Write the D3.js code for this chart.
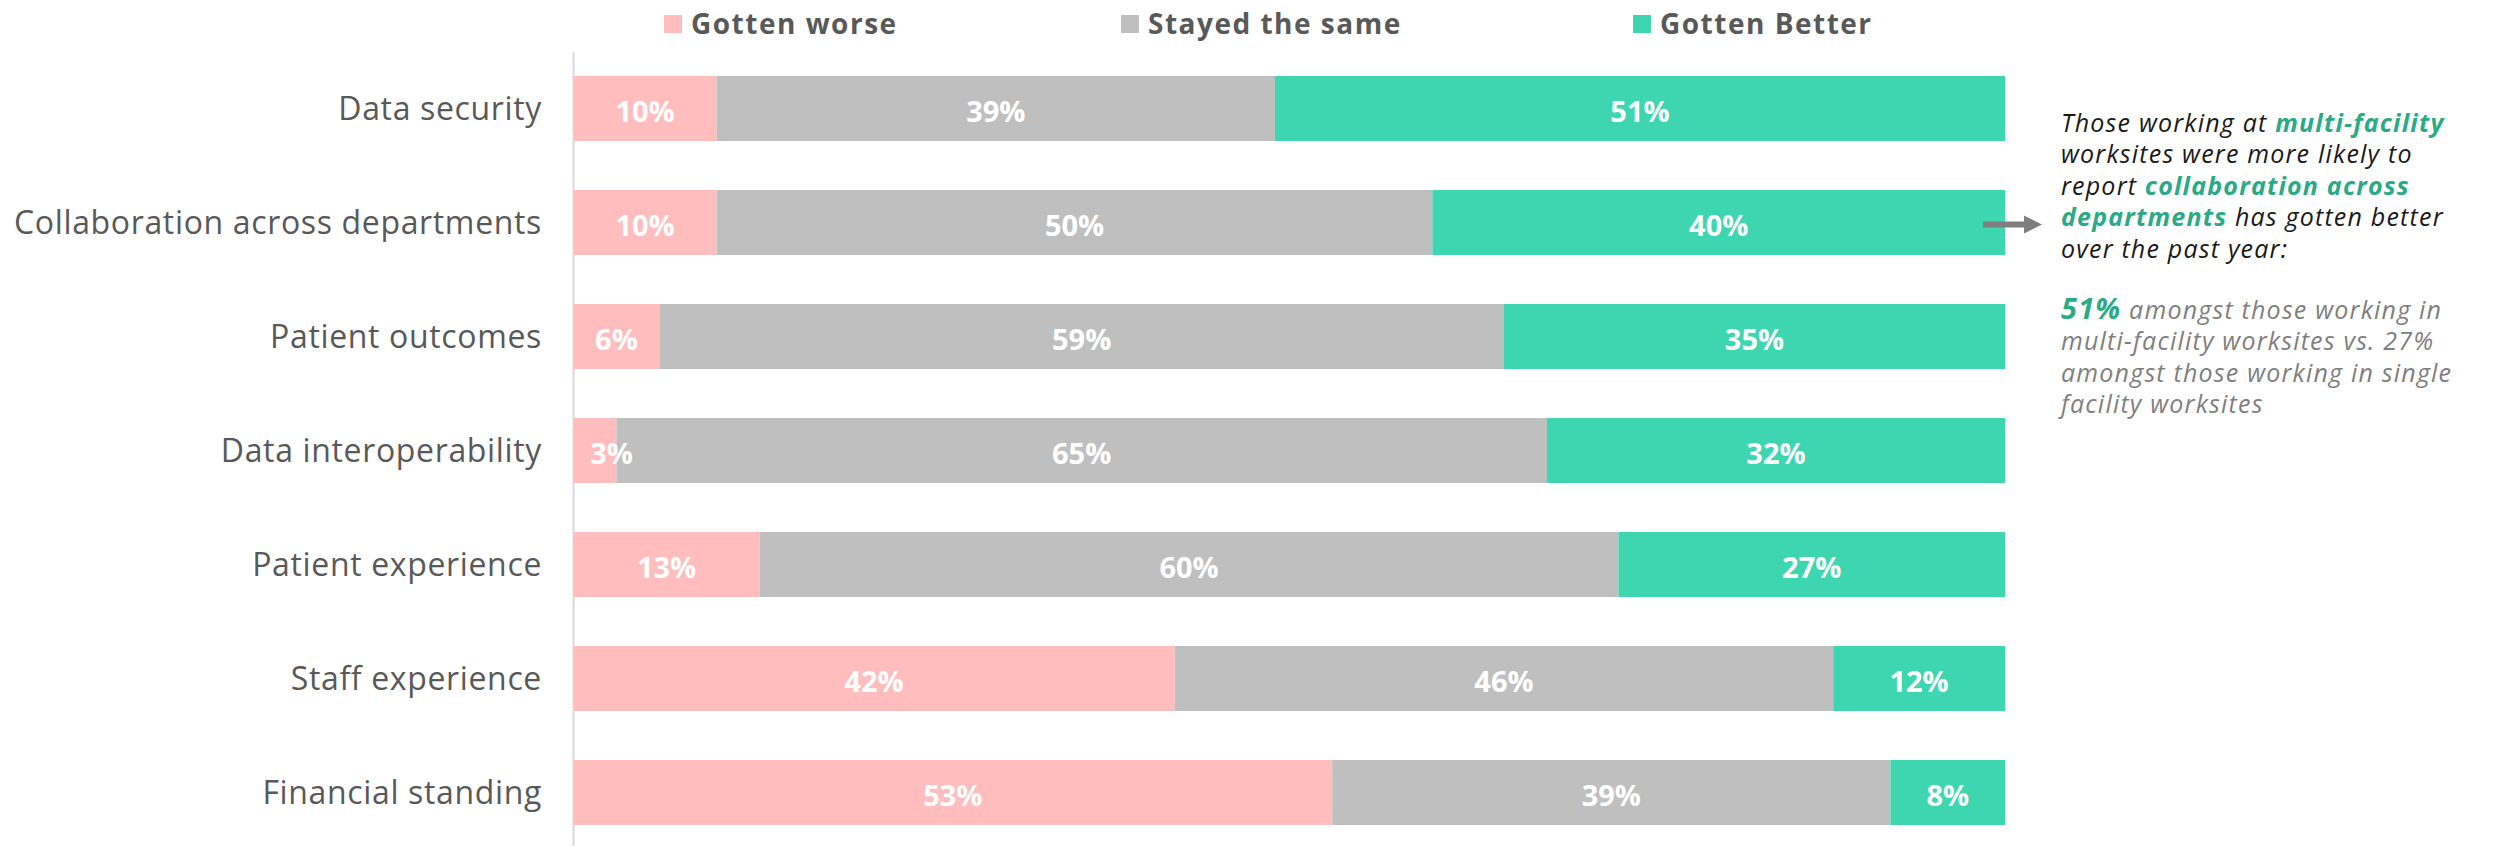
<!DOCTYPE html>
<html>
<head>
<meta charset="utf-8">
<script src="https://cdn.jsdelivr.net/npm/d3@7"></script>
<style>
  html, body { margin: 0; padding: 0; background: #ffffff; }
  svg { display: block; }
</style>
</head>
<body>
<svg id="chart" width="2494" height="846"></svg>
<script>
const categories = ["Data security", "Collaboration across departments", "Patient outcomes", "Data interoperability", "Patient experience", "Staff experience", "Financial standing"];
const seriesNames = ["Gotten worse", "Stayed the same", "Gotten Better"];
const gottenWorse = [10, 10, 6, 3, 13, 42, 53];
const stayedSame = [39, 50, 59, 65, 60, 46, 39];
const gottenBetter = [51, 40, 35, 32, 27, 12, 8];
const seriesColors = ["#FFBDBD", "#BFBFBF", "#3ED6B1"];

const annotationPara1 = [
  [["Those working at ", false], ["multi-facility", true]],
  [["worksites were more likely to", false]],
  [["report ", false], ["collaboration across", true]],
  [["departments", true], [" has gotten better", false]],
  [["over the past year:", false]]
];
const annotationPara2 = [
  [["51%", true], [" amongst those working in", false]],
  [["multi-facility worksites vs. 27%", false]],
  [["amongst those working in single", false]],
  [["facility worksites", false]]
];

const svg = d3.select("#chart");
const FONT = "'Open Sans', Lato, sans-serif";

const x = d3.scaleLinear().domain([0, 100]).range([573.5, 2005]);
const y = d3.scaleBand().domain(categories).range([51.5, 849.5]).paddingInner(0.43).paddingOuter(0.215);

const table = categories.map((c, i) => ({
  category: c,
  "Gotten worse": gottenWorse[i],
  "Stayed the same": stayedSame[i],
  "Gotten Better": gottenBetter[i]
}));
const stacked = d3.stack().keys(seriesNames)(table);

// axis (category labels + vertical line)
const axis = d3.axisLeft(y).tickSize(0).tickSizeOuter(0).tickPadding(31);
const gAxis = svg.append("g").attr("transform", `translate(${x(0) - 0.5},0)`).call(axis);
gAxis.select(".domain").attr("stroke", "#D9D9D9").attr("stroke-width", 2);
gAxis.selectAll(".tick text")
  .attr("font-family", FONT)
  .attr("font-size", 32)
  .attr("letter-spacing", 0.65)
  .attr("fill", "#595959")
  .attr("dy", "0.36em");

// bars
const layers = svg.append("g").selectAll("g").data(stacked).join("g")
  .attr("fill", (d, i) => seriesColors[i]);
layers.selectAll("rect").data(d => d).join("rect")
  .attr("x", d => x(d[0]))
  .attr("y", d => y(d.data.category))
  .attr("width", d => x(d[1]) - x(d[0]))
  .attr("height", y.bandwidth());

// value labels
const labelG = svg.append("g");
stacked.forEach((layer) => {
  labelG.selectAll(null).data(layer).join("text")
    .attr("x", d => {
      const w = x(d[1]) - x(d[0]);
      const c = (x(d[0]) + x(d[1])) / 2;
      return w < 60 ? x(d[0]) + 38 : c;
    })
    .attr("y", d => y(d.data.category) + y.bandwidth() / 2 + 2)
    .attr("text-anchor", "middle")
    .attr("dominant-baseline", "central")
    .attr("font-family", FONT)
    .attr("font-weight", "bold")
    .attr("font-size", 29)
    .attr("fill", "#ffffff")
    .text(d => (d[1] - d[0]) + "%");
});

// legend
const legendX = [664, 1121, 1633];
const lg = svg.append("g").selectAll("g").data(seriesNames).join("g")
  .attr("transform", (d, i) => `translate(${legendX[i]},15)`);
lg.append("rect").attr("width", 18).attr("height", 18).attr("fill", (d, i) => seriesColors[i]);
lg.append("text")
  .attr("x", 27).attr("y", 19)
  .attr("font-family", FONT).attr("font-weight", "bold").attr("font-size", 28)
  .attr("letter-spacing", 1.5)
  .attr("fill", "#595959")
  .text(d => d);

// arrow
const ay = y(categories[1]) + y.bandwidth() / 2 + 2;
svg.append("line").attr("x1", 1983).attr("x2", 2027).attr("y1", ay).attr("y2", ay)
  .attr("stroke", "#7F7F7F").attr("stroke-width", 6);
svg.append("path").attr("d", `M2024,${ay - 9}L2042,${ay}L2024,${ay + 9}Z`).attr("fill", "#7F7F7F");

// annotation
const ann = svg.append("g").attr("font-family", FONT).attr("font-style", "italic")
  .attr("letter-spacing", 1.2);
function para(lines, y0, baseColor) {
  lines.forEach((line, li) => {
    const t = ann.append("text").attr("x", 2061).attr("y", y0 + li * 31.6)
      .attr("font-size", 25).attr("fill", baseColor);
    line.forEach(([s, bold]) => {
      const ts = t.append("tspan").text(s);
      if (bold) {
        ts.attr("font-weight", "bold").attr("fill", "#2BAA87");
        if (s === "51%") ts.attr("font-size", 29);
      }
    });
  });
}
para(annotationPara1, 131.5, "#1A1A1A");
para(annotationPara2, 318.5, "#7F7F7F");
</script>
</body>
</html>
